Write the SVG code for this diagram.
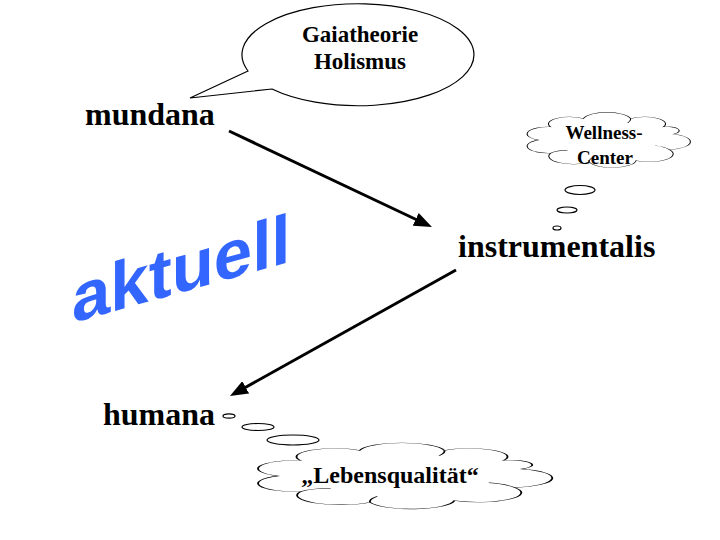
<svg xmlns="http://www.w3.org/2000/svg" width="720" height="540" viewBox="0 0 720 540">
  <style>
    .lbl { font-family: "Liberation Serif", "Times New Roman", serif; font-weight: bold; fill: #000; }
    .shape { fill: #fff; stroke: #000; stroke-width: 1.2; }
    .cloud { fill: #fff; stroke: #000; stroke-width: 1.2; vector-effect: non-scaling-stroke; }
    .inner { fill: none; stroke: #000; stroke-width: 1.2; vector-effect: non-scaling-stroke; }
    .conn { stroke: #000; stroke-width: 3; fill: none; }
  </style>
  <defs>
    <marker id="arrow" markerUnits="userSpaceOnUse" markerWidth="18" markerHeight="14" refX="4" refY="7" orient="auto">
      <path d="M0,0 L18,7 L0,14 Z" fill="#000"/>
    </marker>
    <path id="cloudShape" d="M77.3,-20.7 A28,28 0 0 1 72.5,33.8 A28,28 0 0 1 33.8,72.5 A28,28 0 0 1 -20.7,77.3 A28,28 0 0 1 -65.5,45.9 A24.5,24.5 0 0 1 -80,0 A24.5,24.5 0 0 1 -65.5,-45.9 A24.5,24.5 0 0 1 -27.4,-75.2 A28,28 0 0 1 27.4,-75.2 A24.5,24.5 0 0 1 65.5,-45.9 A14,14 0 0 1 77.3,-20.7 Z"/>
    <path id="cloudInner" d="M72.5,33.8 A28,28 0 0 0 56,20 M-65.5,45.9 A24,24 0 0 1 -46,36 M-20.7,77.3 A28,28 0 0 1 -16,60 M27.4,-75.2 A28,28 0 0 1 24,-60"/>
  </defs>

  <rect width="720" height="540" fill="#fff"/>

  <g id="connectors">
    <line class="conn" x1="229" y1="131" x2="419.3" y2="221" marker-end="url(#arrow)"/>
    <line class="conn" x1="456" y1="270" x2="242.2" y2="389.2" marker-end="url(#arrow)"/>
  </g>

  <g id="callout-gaia">
    <path class="shape" d="M248,71 L190,98 L272,89 A116,51 0 1 0 248,71 Z"/>
    <text class="lbl" x="360" y="42" font-size="23" text-anchor="middle">Gaiatheorie</text>
    <text class="lbl" x="360" y="69" font-size="23" text-anchor="middle">Holismus</text>
  </g>

  <g id="cloud-wellness">
    <ellipse class="shape" cx="580" cy="190" rx="15" ry="4.5"/>
    <ellipse class="shape" cx="567" cy="210" rx="10" ry="3"/>
    <ellipse class="shape" cx="557" cy="228" rx="4" ry="2"/>
    <g transform="translate(607,140) scale(0.86,0.285)">
      <use href="#cloudShape" class="cloud"/>
      <use href="#cloudInner" class="inner"/>
    </g>
    <text class="lbl" x="604" y="139" font-size="19" text-anchor="middle">Wellness-</text>
    <text class="lbl" x="605" y="164" font-size="19" text-anchor="middle">Center</text>
  </g>

  <g id="cloud-lebensqualitaet">
    <ellipse class="shape" cx="229" cy="416" rx="6" ry="2.2"/>
    <ellipse class="shape" cx="258" cy="427" rx="16" ry="3.5"/>
    <ellipse class="shape" cx="293" cy="440" rx="26" ry="5"/>
    <g transform="translate(402,476) scale(1.55,0.34)">
      <use href="#cloudShape" class="cloud"/>
      <use href="#cloudInner" class="inner"/>
    </g>
    <text class="lbl" x="390" y="483" font-size="24" text-anchor="middle">„Lebensqualität“</text>
  </g>

  <g id="node-mundana">
    <text class="lbl" x="85" y="125" font-size="32">mundana</text>
  </g>
  <g id="node-instrumentalis">
    <text class="lbl" x="458" y="257" font-size="32">instrumentalis</text>
  </g>
  <g id="node-humana">
    <text class="lbl" x="103" y="425" font-size="32">humana</text>
  </g>

  <g id="label-aktuell">
    <text transform="translate(72,323) skewY(-15.7)" x="0" y="0" font-family="'Liberation Sans', Arial, sans-serif" font-weight="bold" font-size="69" fill="#3366FF">aktuell</text>
  </g>
</svg>
